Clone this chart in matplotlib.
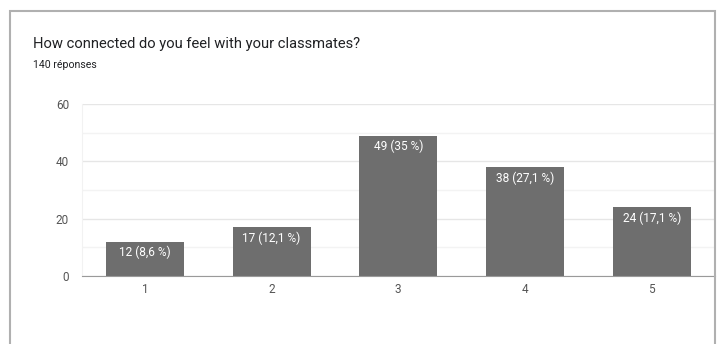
import matplotlib.pyplot as plt
from matplotlib.patches import Rectangle
from matplotlib.ticker import MultipleLocator

plt.rcParams['font.family'] = ['Roboto', 'DejaVu Sans']

categories = ['1', '2', '3', '4', '5']
counts = [12, 17, 49, 38, 24]
percents = ['8,6', '12,1', '35', '27,1', '17,1']
title = 'How connected do you feel with your classmates?'
subtitle = '140 réponses'

fig = plt.figure(figsize=(7.17, 3.44), dpi=100)
ax = fig.add_axes([81.5 / 717, 68 / 344, 633.5 / 717, 172 / 344])

x = range(1, len(categories) + 1)
bars = ax.bar(x, counts, width=0.615, color='#6e6e6e', zorder=3)

for xi, c, p in zip(x, counts, percents):
    ax.annotate(f'{c} ({p} %)', (xi, c), xytext=(0, -3), textcoords='offset points',
                ha='center', va='top', color='white', fontsize=8.6, zorder=4)

ax.set_xlim(0.5, 5.5)
ax.set_ylim(0, 60)
ax.set_xticks(list(x))
ax.set_xticklabels(categories)
ax.yaxis.set_major_locator(MultipleLocator(20))
ax.yaxis.set_minor_locator(MultipleLocator(10))
ax.grid(axis='y', which='major', color='#e6e6e6', linewidth=1, zorder=0)
ax.grid(axis='y', which='minor', color='#f3f3f3', linewidth=1, zorder=0)
ax.tick_params(axis='both', which='both', length=0, labelsize=8.5, labelcolor='#555555')
ax.tick_params(axis='y', pad=9)
ax.tick_params(axis='x', pad=5)
for s in ['top', 'right']:
    ax.spines[s].set_visible(False)
ax.spines['left'].set_color('#f2f2f2')
ax.spines['bottom'].set_color('#9a9a9a')
ax.spines['bottom'].set_zorder(5)

# card border around the chart
fig.patches.append(Rectangle((10 / 717, -0.1), 705 / 717, (344 - 11) / 344 + 0.1,
                             transform=fig.transFigure, fill=False,
                             edgecolor='#b0b0b0', linewidth=1.5))

fig.text(33 / 717, 1 - 48 / 344, title, fontsize=10.6, color='#202124', va='baseline')
fig.text(33 / 717, 1 - 68 / 344, subtitle, fontsize=7.6, color='#202124', va='baseline')

fig.savefig('out.png', dpi=100)
